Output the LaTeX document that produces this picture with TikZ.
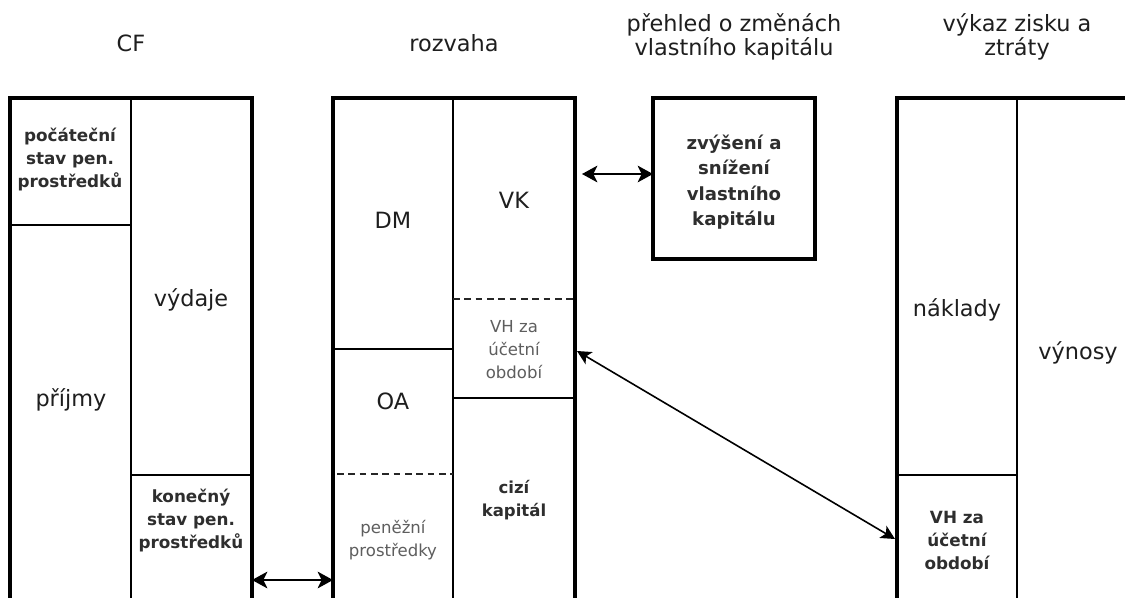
\documentclass[tikz,border=0pt]{standalone}
\usepackage{fontspec}
\setmainfont{DejaVu Sans}
\usetikzlibrary{arrows.meta}
\definecolor{txt}{HTML}{1E1E1E}
\definecolor{bodytxt}{HTML}{2E2E2E}
\definecolor{soft}{HTML}{5E5E5E}
\begin{document}
\begin{tikzpicture}[x=0.75pt,y=-0.75pt,
  outer/.style={line width=2.4pt, draw=black},
  inner/.style={line width=1.1pt, draw=black},
  dashline/.style={line width=1.1pt, draw=black!85, dash pattern=on 5pt off 3.5pt},
  hdr/.style={font=\fontsize{16.8}{17.6}\selectfont, text=txt, align=center, inner sep=0pt},
  big/.style={font=\fontsize{16.8}{20}\selectfont, text=txt, inner sep=0pt},
  small/.style={font=\bfseries\fontsize{12.6}{17.25}\selectfont, text=bodytxt, align=center, inner sep=0pt},
  light/.style={font=\fontsize{12.4}{17.25}\selectfont, text=soft, align=center, inner sep=0pt},
  dbl/.style={{Stealth[length=11.5pt,width=12.5pt,inset=3pt]}-{Stealth[length=11.5pt,width=12.5pt,inset=3pt]}, line width=1.5pt},
  dbldiag/.style={{Stealth[length=10.5pt,width=10.5pt,inset=2.6pt]}-{Stealth[length=10.5pt,width=10.5pt,inset=2.6pt]}, line width=1.2pt}
]
\useasboundingbox[fill=white] (0,0) rectangle (1125,597);

% headers
\node[hdr] (hcf) at (131,43) {CF};
\node[hdr] (hrz) at (454,43) {rozvaha};
\node[hdr] (hpr) at (734,37) {přehled o změnách\\vlastního kapitálu};
\node[hdr] (hvz) at (1017,37) {výkaz zisku a\\ztráty};

% CF
\draw[inner] (131,98) -- (131,620);
\draw[inner] (10,225) -- (131,225);
\draw[inner] (131,475) -- (252,475);
\draw[outer] (10,98) rectangle (252,620);
\node[small] (poc) at (70,160) {počáteční\\stav pen.\\prostředků};
\node[big] (prij) at (71,400) {příjmy};
\node[big] (vyd) at (191,300) {výdaje};
\node[small] (kon) at (191,521) {konečný\\stav pen.\\prostředků};

% rozvaha
\draw[inner] (453,98) -- (453,620);
\draw[inner] (333,349) -- (453,349);
\draw[dashline] (337,474) -- (453,474);
\draw[dashline] (453,299) -- (575,299);
\draw[inner] (453,398) -- (575,398);
\draw[outer] (333,98) rectangle (575,620);
\node[big] (dm) at (393,220) {DM};
\node[big] (vk) at (514,200) {VK};
\node[big] (oa) at (393,401) {OA};
\node[light] (vhr) at (514,350) {VH za\\účetní\\období};
\node[small, font=\bfseries\fontsize{12.4}{17.5}\selectfont] (ck) at (514,500) {cizí\\kapitál};
\node[light] (pp) at (393,540) {peněžní\\prostředky};

% prehled o zmenach VK
\draw[outer] (653,98) rectangle (815,259);
\node[small, font=\bfseries\fontsize{13.6}{19}\selectfont] (zv) at (734,182) {zvýšení a\\snížení\\vlastního\\kapitálu};
\coordinate (zvL) at (653,174);

% vykaz zisku a ztraty
\draw[inner] (1017,98) -- (1017,620);
\draw[inner] (897,475) -- (1017,475);
\draw[outer] (897,98) rectangle (1139,620);
\node[big] (nakl) at (957,310) {náklady};
\node[big] (vyn) at (1078,353) {výnosy};
\node[small] (vhv) at (957,540) {VH za\\účetní\\období};

% connectors
\coordinate (cfR) at (252,580);
\coordinate (rzL) at (333,580);
\coordinate (rzR) at (582,174);
\coordinate (vhrR) at (577,351);
\coordinate (vhvL) at (895,539);
\draw[dbl] (cfR) -- (rzL);
\draw[dbl] (rzR) -- (zvL);
\draw[dbldiag] (vhrR) -- (vhvL);
\end{tikzpicture}
\end{document}
